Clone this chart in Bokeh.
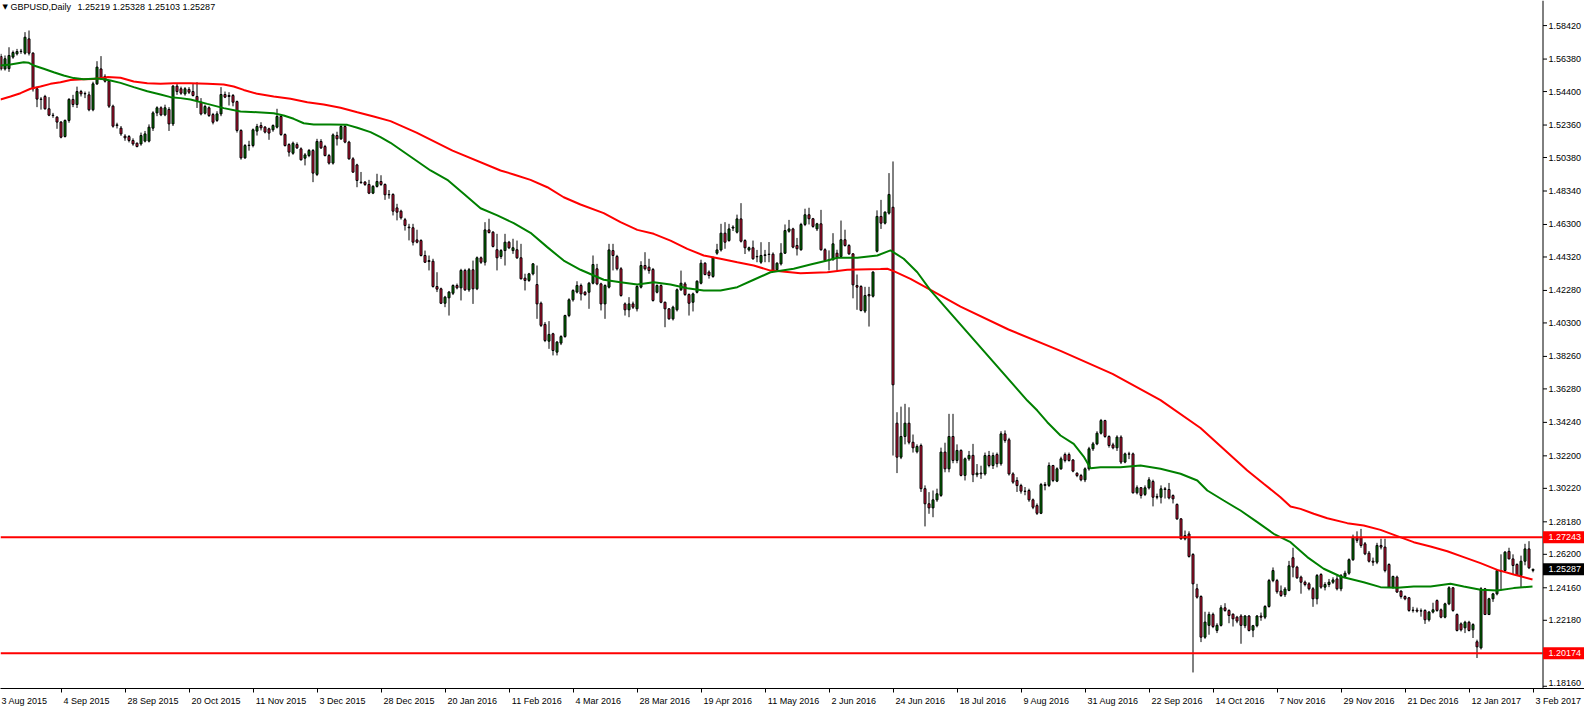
import numpy as np
from bokeh.plotting import figure
from bokeh.models import Range1d, FixedTicker, Label, ColumnDataSource
from bokeh.embed import file_html
from bokeh.resources import INLINE

# ---------------- data (GBPUSD daily) ----------------
opens = [
1.5654,1.5578,1.5580,1.5650,1.5670,1.5684,1.5674,1.5761,1.5674,1.5457,
1.5394,1.5410,1.5335,1.5296,1.5284,1.5254,1.5166,1.5264,1.5392,1.5361,
1.5440,1.5426,1.5420,1.5329,1.5487,1.5578,1.5532,1.5503,1.5351,1.5233,
1.5217,1.5168,1.5166,1.5142,1.5125,1.5121,1.5138,1.5138,1.5217,1.5310,
1.5341,1.5298,1.5331,1.5243,1.5473,1.5457,1.5426,1.5453,1.5440,1.5410,
1.5375,1.5308,1.5341,1.5300,1.5264,1.5304,1.5422,1.5416,1.5416,1.5379,
1.5203,1.5036,1.5111,1.5111,1.5199,1.5233,1.5223,1.5213,1.5207,1.5223,
1.5288,1.5178,1.5117,1.5064,1.5117,1.5091,1.5034,1.5050,1.5081,1.4935,
1.5136,1.5105,1.5050,1.5004,1.5172,1.5152,1.5227,1.5132,1.5030,1.4993,
1.4888,1.4888,1.4874,1.4821,1.4862,1.4892,1.4874,1.4811,1.4813,1.4731,
1.4711,1.4659,1.4614,1.4610,1.4536,1.4532,1.4441,1.4410,1.4406,1.4252,
1.4238,1.4150,1.4183,1.4211,1.4258,1.4244,1.4350,1.4232,1.4354,1.4238,
1.4427,1.4400,1.4597,1.4583,1.4476,1.4435,1.4471,1.4522,1.4471,1.4476,
1.4427,1.4303,1.4289,1.4329,1.4264,1.4150,1.4021,1.3919,1.3964,1.3852,
1.3907,1.3947,1.4075,1.4171,1.4218,1.4258,1.4217,1.4217,1.4272,1.4360,
1.4268,1.4146,1.4248,1.4471,1.4435,1.4360,1.4146,1.4110,1.4146,1.4116,
1.4248,1.4380,1.4370,1.4356,1.4217,1.4258,1.4156,1.4116,1.4055,1.4110,
1.4232,1.4268,1.4203,1.4156,1.4217,1.4272,1.4394,1.4340,1.4313,1.4455,
1.4475,1.4577,1.4532,1.4608,1.4583,1.4664,1.4532,1.4475,1.4488,1.4435,
1.4400,1.4441,1.4447,1.4449,1.4354,1.4390,1.4455,1.4589,1.4603,1.4502,
1.4476,1.4630,1.4689,1.4665,1.4603,1.4634,1.4476,1.4411,1.4415,1.4455,
1.4435,1.4537,1.4502,1.4451,1.4258,1.4252,1.4102,1.4203,1.4193,1.4467,
1.4679,1.4638,1.4699,1.4735,1.3419,1.3212,1.3338,1.3419,1.3303,1.3245,
1.3283,1.3020,1.2928,1.2903,1.2952,1.2979,1.3243,1.3141,1.3338,1.3192,
1.3253,1.3101,1.3202,1.3223,1.3105,1.3115,1.3110,1.3222,1.3161,1.3228,
1.3172,1.3354,1.3318,1.3110,1.3070,1.3039,1.3005,1.3009,1.2952,1.2917,
1.2870,1.3045,1.3040,1.3161,1.3066,1.3141,1.3228,1.3228,1.3195,1.3114,
1.3100,1.3074,1.3141,1.3263,1.3293,1.3358,1.3435,1.3338,1.3287,1.3269,
1.3334,1.3182,1.3232,1.3232,1.2995,1.3026,1.2985,1.3025,1.3064,1.2968,
1.2968,1.3019,1.3015,1.2978,1.2924,1.2836,1.2714,1.2744,1.2619,1.2410,
1.2363,1.2115,1.2187,1.2254,1.2156,1.2187,1.2294,1.2278,1.2255,1.2237,
1.2244,1.2185,1.2244,1.2158,1.2185,1.2244,1.2237,1.2302,1.2460,1.2460,
1.2396,1.2374,1.2400,1.2599,1.2542,1.2481,1.2450,1.2440,1.2410,1.2349,
1.2497,1.2420,1.2436,1.2450,1.2470,1.2410,1.2485,1.2505,1.2587,1.2724,
1.2724,1.2684,1.2627,1.2578,1.2572,1.2674,1.2664,1.2558,1.2420,1.2481,
1.2396,1.2363,1.2355,1.2278,1.2280,1.2274,1.2278,1.2221,1.2268,1.2338,
1.2282,1.2237,1.2318,1.2416,1.2253,1.2196,1.2172,1.2206,1.2160,1.2087,
1.2050,1.2410,1.2253,1.2349,1.2379,1.2521,1.2521,1.2638,1.2592,1.2558,
1.2491,1.2578,1.2653,1.25219]

highs = [
1.5670,1.5660,1.5710,1.5690,1.5700,1.5700,1.5802,1.5812,1.5680,1.5470,
1.5406,1.5420,1.5406,1.5310,1.5290,1.5260,1.5270,1.5400,1.5420,1.5470,
1.5450,1.5440,1.5440,1.5500,1.5625,1.5656,1.5545,1.5510,1.5360,1.5250,
1.5230,1.5180,1.5175,1.5155,1.5130,1.5190,1.5200,1.5240,1.5320,1.5350,
1.5350,1.5360,1.5345,1.5480,1.5487,1.5470,1.5467,1.5467,1.5490,1.5497,
1.5400,1.5360,1.5350,1.5310,1.5320,1.5467,1.5440,1.5436,1.5425,1.5385,
1.5210,1.5120,1.5140,1.5215,1.5243,1.5253,1.5230,1.5220,1.5240,1.5335,
1.5295,1.5185,1.5125,1.5135,1.5130,1.5100,1.5065,1.5090,1.5090,1.5152,
1.5150,1.5115,1.5060,1.5185,1.5195,1.5235,1.5235,1.5140,1.5040,1.5000,
1.4950,1.4895,1.4902,1.4870,1.4939,1.4930,1.4880,1.4840,1.4820,1.4756,
1.4720,1.4670,1.4634,1.4634,1.4598,1.4540,1.4471,1.4441,1.4421,1.4339,
1.4245,1.4195,1.4225,1.4265,1.4270,1.4360,1.4360,1.4365,1.4410,1.4435,
1.4435,1.4644,1.4665,1.4590,1.4573,1.4480,1.4573,1.4530,1.4543,1.4532,
1.4512,1.4330,1.4335,1.4395,1.4380,1.4160,1.4035,1.4041,1.3970,1.3920,
1.3955,1.4080,1.4180,1.4235,1.4284,1.4270,1.4225,1.4280,1.4441,1.4390,
1.4275,1.4265,1.4512,1.4512,1.4445,1.4370,1.4155,1.4187,1.4160,1.4260,
1.4406,1.4461,1.4421,1.4365,1.4265,1.4265,1.4160,1.4120,1.4135,1.4240,
1.4349,1.4280,1.4210,1.4215,1.4290,1.4415,1.4400,1.4350,1.4435,1.4512,
1.4634,1.4644,1.4634,1.4625,1.4690,1.4760,1.4540,1.4495,1.4532,1.4475,
1.4522,1.4475,1.4523,1.4460,1.4400,1.4516,1.4630,1.4658,1.4610,1.4548,
1.4640,1.4726,1.4732,1.4670,1.4640,1.4719,1.4485,1.4472,1.4577,1.4476,
1.4654,1.4598,1.4510,1.4455,1.4325,1.4260,1.4250,1.4250,1.4345,1.4716,
1.4780,1.4710,1.4943,1.5014,1.3486,1.3520,1.3537,1.3516,1.3350,1.3290,
1.3295,1.3040,1.2999,1.3009,1.3020,1.3270,1.3300,1.3476,1.3476,1.3290,
1.3260,1.3210,1.3250,1.3293,1.3170,1.3160,1.3240,1.3250,1.3240,1.3240,
1.3370,1.3375,1.3330,1.3120,1.3090,1.3050,1.3030,1.3020,1.2960,1.2930,
1.3055,1.3060,1.3180,1.3165,1.3150,1.3215,1.3240,1.3240,1.3200,1.3120,
1.3110,1.3150,1.3275,1.3305,1.3370,1.3445,1.3440,1.3345,1.3300,1.3345,
1.3345,1.3240,1.3245,1.3240,1.3040,1.3030,1.3040,1.3090,1.3075,1.2990,
1.3040,1.3030,1.3055,1.2985,1.2930,1.2840,1.2765,1.2760,1.2627,1.2440,
1.2370,1.2270,1.2270,1.2265,1.2200,1.2310,1.2322,1.2285,1.2260,1.2245,
1.2255,1.2250,1.2250,1.2190,1.2250,1.2265,1.2310,1.2470,1.2540,1.2470,
1.2430,1.2420,1.2580,1.2660,1.2550,1.2490,1.2460,1.2450,1.2420,1.2500,
1.2505,1.2450,1.2470,1.2480,1.2490,1.2500,1.2520,1.2595,1.2740,1.2760,
1.2775,1.2695,1.2640,1.2600,1.2690,1.2715,1.2715,1.2565,1.2490,1.2490,
1.2400,1.2370,1.2360,1.2300,1.2295,1.2290,1.2285,1.2275,1.2325,1.2345,
1.2290,1.2325,1.2425,1.2420,1.2260,1.2205,1.2215,1.2215,1.2200,1.2100,
1.2420,1.2415,1.2355,1.2385,1.2530,1.2620,1.2640,1.2660,1.2620,1.2565,
1.2612,1.2684,1.2700,1.25328]

lows = [
1.5568,1.5568,1.5560,1.5640,1.5660,1.5670,1.5665,1.5660,1.5440,1.5345,
1.5330,1.5330,1.5290,1.5280,1.5213,1.5155,1.5160,1.5250,1.5345,1.5340,
1.5410,1.5400,1.5320,1.5320,1.5480,1.5510,1.5495,1.5340,1.5220,1.5215,
1.5170,1.5140,1.5130,1.5110,1.5100,1.5110,1.5130,1.5130,1.5200,1.5290,
1.5290,1.5290,1.5200,1.5230,1.5420,1.5420,1.5415,1.5425,1.5410,1.5340,
1.5295,1.5300,1.5285,1.5240,1.5255,1.5290,1.5400,1.5355,1.5350,1.5190,
1.5025,1.5030,1.5080,1.5100,1.5172,1.5203,1.5185,1.5146,1.5195,1.5215,
1.5170,1.5105,1.5044,1.5055,1.5090,1.5020,1.4990,1.5040,1.4888,1.4925,
1.5090,1.5045,1.4995,1.4995,1.5111,1.5145,1.5125,1.5025,1.4945,1.4857,
1.4878,1.4865,1.4815,1.4815,1.4855,1.4865,1.4780,1.4787,1.4685,1.4655,
1.4660,1.4593,1.4533,1.4502,1.4515,1.4435,1.4395,1.4350,1.4245,1.4218,
1.4145,1.4126,1.4075,1.4200,1.4235,1.4167,1.4225,1.4220,1.4146,1.4230,
1.4390,1.4380,1.4575,1.4490,1.4350,1.4420,1.4380,1.4480,1.4451,1.4420,
1.4295,1.4228,1.4280,1.4320,1.4055,1.4005,1.3913,1.3872,1.3832,1.3832,
1.3895,1.3940,1.4065,1.4160,1.4210,1.4167,1.4195,1.4116,1.4265,1.4260,
1.4106,1.4055,1.4240,1.4350,1.4350,1.4190,1.4075,1.4065,1.4115,1.4100,
1.4240,1.4350,1.4330,1.4160,1.4210,1.4150,1.4004,1.4050,1.4045,1.4100,
1.4225,1.4195,1.4075,1.4100,1.4210,1.4265,1.4320,1.4300,1.4305,1.4445,
1.4465,1.4482,1.4525,1.4590,1.4575,1.4520,1.4450,1.4465,1.4415,1.4400,
1.4390,1.4400,1.4400,1.4345,1.4345,1.4380,1.4450,1.4580,1.4485,1.4441,
1.4470,1.4620,1.4630,1.4610,1.4590,1.4470,1.4405,1.4350,1.4410,1.4350,
1.4430,1.4495,1.4445,1.4180,1.4110,1.4100,1.4090,1.4008,1.4185,1.4460,
1.4603,1.4630,1.4690,1.3222,1.3115,1.3200,1.3290,1.3290,1.3240,1.3235,
1.3000,1.2790,1.2867,1.2846,1.2940,1.2970,1.3120,1.3120,1.3175,1.3175,
1.3095,1.3070,1.3190,1.3060,1.3090,1.3080,1.3100,1.3150,1.3140,1.3150,
1.3160,1.3300,1.3100,1.3050,1.3000,1.2990,1.2980,1.2940,1.2895,1.2860,
1.2865,1.3010,1.3030,1.3060,1.3060,1.3135,1.3180,1.3185,1.3120,1.3090,
1.3065,1.3060,1.3130,1.3250,1.3285,1.3350,1.3330,1.3270,1.3260,1.3250,
1.3170,1.3175,1.3200,1.2990,1.2985,1.2960,1.2975,1.3015,1.2912,1.2955,
1.2930,1.2960,1.2955,1.2930,1.2830,1.2710,1.2705,1.2600,1.1900,1.2350,
1.2085,1.2105,1.2130,1.2170,1.2140,1.2180,1.2270,1.2200,1.2180,1.2200,
1.2075,1.2170,1.2150,1.2115,1.2175,1.2215,1.2225,1.2295,1.2450,1.2380,
1.2360,1.2360,1.2395,1.2480,1.2470,1.2380,1.2425,1.2400,1.2300,1.2315,
1.2410,1.2400,1.2420,1.2440,1.2400,1.2395,1.2475,1.2495,1.2580,1.2690,
1.2660,1.2615,1.2570,1.2550,1.2560,1.2650,1.2510,1.2420,1.2410,1.2385,
1.2350,1.2340,1.2270,1.2265,1.2265,1.2240,1.2196,1.2210,1.2260,1.2270,
1.2230,1.2230,1.2310,1.2270,1.2150,1.2150,1.2140,1.2150,1.2110,1.1988,
1.2040,1.2250,1.2250,1.2330,1.2370,1.2400,1.2515,1.2590,1.2500,1.2490,
1.2420,1.2553,1.2530,1.25103]

closes = [
1.5578,1.5640,1.5660,1.5678,1.5684,1.5686,1.5771,1.5674,1.5457,1.5394,
1.5392,1.5335,1.5296,1.5294,1.5254,1.5162,1.5264,1.5392,1.5361,1.5440,
1.5426,1.5428,1.5329,1.5487,1.5589,1.5524,1.5503,1.5351,1.5229,1.5237,
1.5182,1.5158,1.5142,1.5121,1.5105,1.5172,1.5182,1.5223,1.5310,1.5341,
1.5298,1.5341,1.5243,1.5473,1.5440,1.5430,1.5457,1.5436,1.5416,1.5385,
1.5304,1.5349,1.5294,1.5253,1.5304,1.5422,1.5406,1.5410,1.5375,1.5203,
1.5036,1.5111,1.5113,1.5207,1.5227,1.5219,1.5193,1.5187,1.5233,1.5288,
1.5178,1.5111,1.5071,1.5125,1.5097,1.5024,1.5054,1.5081,1.4943,1.5136,
1.5097,1.5050,1.5004,1.5176,1.5152,1.5227,1.5132,1.5030,1.4949,1.4898,
1.4885,1.4874,1.4821,1.4862,1.4892,1.4874,1.4811,1.4813,1.4711,1.4705,
1.4671,1.4624,1.4610,1.4522,1.4522,1.4441,1.4400,1.4404,1.4252,1.4236,
1.4150,1.4187,1.4218,1.4258,1.4244,1.4350,1.4232,1.4354,1.4238,1.4427,
1.4400,1.4597,1.4581,1.4496,1.4427,1.4471,1.4522,1.4488,1.4488,1.4427,
1.4299,1.4289,1.4329,1.4390,1.4146,1.4015,1.3923,1.3960,1.3862,1.3913,
1.3947,1.4075,1.4171,1.4228,1.4258,1.4207,1.4203,1.4272,1.4386,1.4268,
1.4146,1.4258,1.4475,1.4441,1.4360,1.4197,1.4110,1.4146,1.4126,1.4252,
1.4380,1.4360,1.4349,1.4167,1.4258,1.4156,1.4116,1.4055,1.4126,1.4232,
1.4272,1.4203,1.4150,1.4207,1.4284,1.4394,1.4325,1.4319,1.4427,1.4475,
1.4577,1.4522,1.4603,1.4614,1.4664,1.4528,1.4488,1.4488,1.4421,1.4433,
1.4441,1.4445,1.4449,1.4350,1.4394,1.4455,1.4593,1.4603,1.4492,1.4482,
1.4630,1.4689,1.4665,1.4618,1.4634,1.4476,1.4411,1.4415,1.4512,1.4431,
1.4537,1.4502,1.4451,1.4262,1.4248,1.4106,1.4197,1.4195,1.4340,1.4679,
1.4638,1.4705,1.4813,1.3653,1.3212,1.3338,1.3419,1.3303,1.3269,1.3277,
1.3020,1.2928,1.2903,1.2952,1.2989,1.3243,1.3141,1.3338,1.3192,1.3253,
1.3101,1.3202,1.3223,1.3105,1.3115,1.3110,1.3222,1.3161,1.3222,1.3172,
1.3354,1.3314,1.3110,1.3060,1.3039,1.3005,1.3003,1.2952,1.2907,1.2870,
1.3045,1.3040,1.3161,1.3070,1.3141,1.3202,1.3192,1.3192,1.3127,1.3100,
1.3074,1.3141,1.3263,1.3293,1.3358,1.3435,1.3338,1.3283,1.3269,1.3334,
1.3182,1.3232,1.3230,1.2995,1.3026,1.2979,1.3025,1.3074,1.2968,1.2972,
1.3019,1.3015,1.2964,1.2958,1.2836,1.2714,1.2734,1.2607,1.2440,1.2359,
1.2115,1.2207,1.2254,1.2180,1.2187,1.2294,1.2278,1.2247,1.2227,1.2213,
1.2187,1.2244,1.2156,1.2185,1.2244,1.2237,1.2302,1.2460,1.2521,1.2392,
1.2369,1.2408,1.2550,1.2542,1.2477,1.2450,1.2436,1.2410,1.2349,1.2491,
1.2420,1.2436,1.2450,1.2464,1.2410,1.2490,1.2505,1.2587,1.2724,1.2705,
1.2674,1.2623,1.2578,1.2572,1.2674,1.2664,1.2521,1.2420,1.2485,1.2390,
1.2363,1.2349,1.2278,1.2280,1.2274,1.2276,1.2221,1.2268,1.2282,1.2278,
1.2237,1.2318,1.2416,1.2278,1.2156,1.2160,1.2206,1.2156,1.2192,1.2056,
1.2410,1.2253,1.2349,1.2379,1.2521,1.2515,1.2633,1.2592,1.2552,1.2491,
1.2578,1.2653,1.2538,1.25287]

# moving averages (vertices; x = bar number)
ma_green_bar = [0,2.5,5.8,7.1,8.3,10.8,13.3,15.8,18.3,20.8,24.2,25.8,27.5,30,33.3,36.7,40,42.5,45,47.5,
                51.7,55.8,60,64.2,68.3,70.8,73.3,75.8,78.3,82.5,86.7,89.2,92.5,95,97.5,107.5,111.7,115.8,120,124.2,
                128.3,132.5,136.7,140.8,145,150.8,155,159.2,163.3,167.5,171.7,175.8,180,184.2,188.3,192.5,198.3,202.5,206.7,209.2,
                214.2,219.2,222.5,225.8,229.2,232.5,256.7,259.2,261.7,265,268.3,270.8,272.5,275,280,285,290,295,299.2,301.7,
                305.8,310,314.2,318.3,322.5,326.7,330.8,335,340.8,345,349.2,353.3,357.5,362.5,365.8,370,374.2,378.3,383]
ma_green_val = [1.5599,1.5605,1.5619,1.5615,1.5599,1.5579,1.5558,1.5538,1.5522,1.5515,1.5519,1.5515,1.5507,1.5493,1.5467,1.5442,1.5422,1.5406,1.5400,1.5392,
                1.5365,1.5339,1.5318,1.5314,1.5308,1.5294,1.5274,1.5247,1.5239,1.5239,1.5237,1.5219,1.5193,1.5162,1.5128,1.4959,1.4902,1.4817,1.4729,1.4685,
                1.4638,1.4579,1.4492,1.4410,1.4354,1.4293,1.4278,1.4264,1.4278,1.4264,1.4242,1.4228,1.4228,1.4248,1.4293,1.4339,1.4360,1.4386,1.4410,1.4427,
                1.4427,1.4441,1.4472,1.4421,1.4339,1.4228,1.3557,1.3496,1.3425,1.3344,1.3293,1.3216,1.3145,1.3151,1.3151,1.3161,1.3141,1.3111,1.3070,1.3009,
                1.2948,1.2887,1.2816,1.2745,1.2694,1.2603,1.2532,1.2485,1.2450,1.2420,1.2416,1.2424,1.2424,1.2440,1.2424,1.2404,1.2399,1.2414,1.2424]

ma_red_bar = [0,2.5,5,7.5,10,12.5,15,17.5,20.8,23.3,26.7,30,33.3,36.7,40,43.3,47.5,51.7,55.8,58.3,
              60.8,64.2,68.3,72.5,76.7,80.8,85,89.2,93.3,97.5,104,113,125,128.3,132.5,136.7,140.8,145,150.8,155,
              159.2,163.3,167.5,171.7,175.8,180,184.2,188.3,192.5,194.2,200,206.7,211.7,220,221.7,223.3,227.5,232.5,240,252,
              265,278,290,300,311.7,315.8,320,322.5,325,328.3,331.7,336.7,340.8,345,349.2,353.3,357.5,361.7,365.8,370,
              374.2,378.3,383]
ma_red_val = [1.5392,1.5410,1.5430,1.5457,1.5471,1.5487,1.5497,1.5511,1.5515,1.5517,1.5528,1.5524,1.5501,1.5491,1.5487,1.5491,1.5491,1.5487,1.5483,1.5471,
              1.5450,1.5426,1.5410,1.5396,1.5375,1.5361,1.5341,1.5314,1.5288,1.5260,1.5190,1.5080,1.4959,1.4935,1.4902,1.4857,1.4796,1.4752,1.4699,1.4644,
              1.4597,1.4573,1.4532,1.4481,1.4441,1.4421,1.4400,1.4380,1.4349,1.4346,1.4333,1.4339,1.4354,1.4358,1.4360,1.4346,1.4299,1.4232,1.4130,1.3990,
              1.3860,1.3720,1.3560,1.3390,1.3131,1.3050,1.2968,1.2911,1.2897,1.2867,1.2840,1.2810,1.2796,1.2769,1.2731,1.2694,1.2668,1.2639,1.2603,1.2566,
              1.2525,1.2497,1.2467]

date_labels = ["3 Aug 2015", "4 Sep 2015", "28 Sep 2015", "20 Oct 2015", "11 Nov 2015", "3 Dec 2015",
               "28 Dec 2015", "20 Jan 2016", "11 Feb 2016", "4 Mar 2016", "28 Mar 2016", "19 Apr 2016",
               "11 May 2016", "2 Jun 2016", "24 Jun 2016", "18 Jul 2016", "9 Aug 2016", "31 Aug 2016",
               "22 Sep 2016", "14 Oct 2016", "7 Nov 2016", "29 Nov 2016", "21 Dec 2016", "12 Jan 2017", "3 Feb 2017"]
date_bars = [0, 15, 31, 47, 63, 79, 95, 111, 127, 143, 159, 175, 191, 207, 223, 239, 255, 271, 287,
             303, 319, 335, 351, 367, 383]

price_ticks = [1.58420, 1.56380, 1.54400, 1.52360, 1.50380, 1.48340, 1.46300, 1.44320, 1.42280, 1.40300,
               1.38260, 1.36280, 1.34240, 1.32200, 1.30220, 1.28180, 1.26200, 1.24160, 1.22180, 1.18160]

level_high = 1.27243
level_low = 1.20174
last_price = 1.25287
symbol_text = "GBPUSD,Daily"
ohlc_text = "1.25219  1.25328  1.25103  1.25287"

# ---------------- layout ----------------
FONT = "Liberation Sans"
FS = "9px"
PX_PER_BAR = 4
FRAME_W, FRAME_H = 1584, 688
AXIS_PX = 1542                      # pixel column of the price scale line
x_start = 0.0
x_end = FRAME_W / PX_PER_BAR
axis_x = AXIS_PX / PX_PER_BAR
px = 1.0 / PX_PER_BAR               # one pixel in bar units
y_top = 1.59949
y_bot = 1.18023

p = figure(frame_width=FRAME_W, frame_height=FRAME_H,
           x_range=Range1d(x_start, x_end), y_range=Range1d(y_bot, y_top),
           output_backend="svg", toolbar_location=None, min_border=0,
           y_axis_location=None, background_fill_color="white")
p.outline_line_color = None
p.grid.visible = False

# candles (half-pixel shift for crisp 1px strokes)
o = np.array(opens); h = np.array(highs); l = np.array(lows); c = np.array(closes)
idx = np.arange(len(c), dtype=float) + px / 2
up = c >= o
p.segment(x0=idx, y0=l, x1=idx, y1=h, line_color="black", line_width=1)
src_up = ColumnDataSource(dict(x=idx[up], top=c[up], bottom=o[up]))
src_dn = ColumnDataSource(dict(x=idx[~up], top=o[~up], bottom=c[~up]))
p.vbar(x="x", top="top", bottom="bottom", width=2 * px, source=src_up,
       fill_color="#008000", line_color="black", line_width=1)
p.vbar(x="x", top="top", bottom="bottom", width=2 * px, source=src_dn,
       fill_color="#DC143C", line_color="black", line_width=1)

# moving averages
p.line(ma_red_bar, ma_red_val, line_color="#FF0000", line_width=2)
p.line(ma_green_bar, ma_green_val, line_color="#008000", line_width=2)

# horizontal levels
p.segment(x0=[x_start, x_start], y0=[level_high, level_low], x1=[axis_x, axis_x], y1=[level_high, level_low],
          line_color="#FF0000", line_width=2)

# right price scale (drawn inside the frame so the price boxes can sit on it)
p.segment(x0=[axis_x + px / 2], y0=[y_bot], x1=[axis_x + px / 2], y1=[y_top], line_color="black", line_width=1)
p.segment(x0=[axis_x + px / 2] * len(price_ticks), y0=price_ticks,
          x1=[axis_x + 4.5 * px] * len(price_ticks), y1=price_ticks, line_color="black", line_width=1)
tick_txt = [f"{v:.5f}" for v in price_ticks]
mid = price_ticks[:-1]
p.text(x=[axis_x + 6 * px] * len(mid), y=mid, text=tick_txt[:-1], text_font=value_font if False else None) if False else None
from bokeh.core.properties import value
p.text(x=[axis_x + 6 * px] * len(mid), y=mid, text=tick_txt[:-1], text_font=value(FONT),
       text_font_size=value(FS), text_color="black", text_baseline="middle", text_align="left")
p.text(x=[axis_x + 6 * px], y=[price_ticks[-1]], text=[tick_txt[-1]], text_font=value(FONT),
       text_font_size=value(FS), text_color="black", text_baseline="bottom", text_align="left")

# price boxes
box_vals = [level_high, last_price, level_low]
box_cols = ["#FF0000", "#000000", "#FF0000"]
p.rect(x=[axis_x + 21.5 * px] * 3, y=box_vals, width=42, height=12, width_units="screen",
       height_units="screen", fill_color=box_cols, line_color=None)
p.text(x=[axis_x + 6 * px] * 3, y=box_vals, text=[f"{v:.5f}" for v in box_vals], text_font=value(FONT),
       text_font_size=value(FS), text_color="white", text_baseline="middle", text_align="left")

# bottom date axis: labels begin just right of each tick (MetaTrader style)
CW = {" ": 0.278, ".": 0.278, "A": 0.667, "D": 0.722, "F": 0.611, "J": 0.5, "M": 0.833, "N": 0.722,
      "O": 0.778, "S": 0.667, "a": 0.556, "b": 0.556, "c": 0.5, "e": 0.556, "g": 0.556, "l": 0.222,
      "n": 0.556, "o": 0.556, "p": 0.556, "r": 0.333, "t": 0.278, "u": 0.556, "v": 0.5, "y": 0.5}
DATE_FS = 9.0

def text_w(s):
    return sum(CW.get(ch, 0.556) for ch in s) * DATE_FS

centers = []
for k, (lab, b) in enumerate(zip(date_labels, date_bars)):
    start = 1 if k == 0 else PX_PER_BAR * b + 3
    centers.append((start + text_w(lab) / 2) / PX_PER_BAR)

xa = p.xaxis[0]
xa.ticker = FixedTicker(ticks=centers, minor_ticks=[b + px / 2 for b in date_bars[1:]])
xa.major_label_overrides = {cx: lab for cx, lab in zip(centers, date_labels)}
xa.major_tick_line_color = None
xa.major_tick_out = 3
xa.major_tick_in = 0
xa.minor_tick_out = 4
xa.minor_tick_in = 0
xa.minor_tick_line_color = "black"
xa.axis_line_color = "black"
xa.major_label_standoff = 3
xa.major_label_text_font = FONT
xa.major_label_text_font_size = FS
xa.major_label_text_color = "black"

# title inside the chart
p.add_layout(Label(x=x_start, y=y_top, x_offset=2, y_offset=-2, text="\u25BC", text_color="black",
                   text_font="DejaVu Sans", text_font_size="7px", text_baseline="top"))
p.add_layout(Label(x=x_start, y=y_top, x_offset=10, y_offset=-1, text=symbol_text, text_color="black",
                   text_font=FONT, text_font_size=FS, text_baseline="top"))
p.add_layout(Label(x=x_start, y=y_top, x_offset=77, y_offset=-1, text=ohlc_text, text_color="black",
                   text_font=FONT, text_font_size=FS, text_baseline="top"))

open("out.html", "w").write(file_html(p, INLINE))
